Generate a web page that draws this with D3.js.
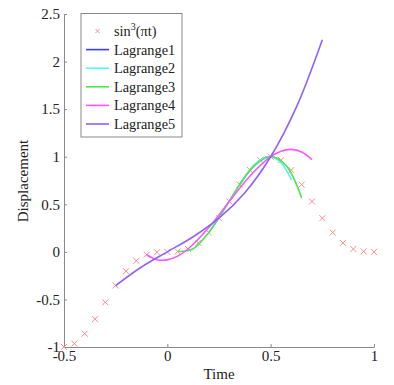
<!DOCTYPE html>
<html><head><meta charset="utf-8">
<script src="https://cdn.jsdelivr.net/npm/d3@7"></script>
<style>body{margin:0;background:#fff}svg{display:block}</style>
</head><body><div id="chart"></div>
<script>
// Sample points of sin^3(pi t)
const sampleT = [-0.5,-0.45,-0.4,-0.35,-0.3,-0.25,-0.2,-0.15,-0.1,-0.05,0,0.05,0.1,0.15,0.2,0.25,0.3,0.35,0.4,0.45,0.5,0.55,0.6,0.65,0.7,0.75,0.8,0.85,0.9,0.95,1.0];
const sampleY = [-1,-0.964,-0.860,-0.707,-0.530,-0.354,-0.203,-0.094,-0.030,-0.004,0,0.004,0.030,0.094,0.203,0.354,0.530,0.707,0.860,0.964,1,0.964,0.860,0.707,0.530,0.354,0.203,0.094,0.030,0.004,0];

// Interpolating curves (t, value)
const lag1T = [0.35,0.375,0.4,0.425,0.45,0.475,0.5,0.525,0.55];
const lag1Y = [0.707,0.788,0.860,0.919,0.964,0.992,1.0,0.987,0.949];
const lag2T = [0.2,0.25,0.3,0.35,0.4,0.45,0.5,0.55,0.6];
const lag2Y = [0.203,0.354,0.530,0.707,0.860,0.966,1.0,0.938,0.757];
const lag3T = [0.05,0.125,0.2,0.275,0.35,0.425,0.5,0.575,0.65];
const lag3Y = [0.004,0.033,0.203,0.449,0.707,0.912,1.0,0.906,0.566];
const lag4T = [-0.1,-0.05,0,0.05,0.1,0.2,0.3,0.4,0.5,0.55,0.6,0.65,0.7];
const lag4Y = [-0.030,-0.082,-0.084,-0.045,0.030,0.254,0.530,0.798,1.0,1.058,1.077,1.050,0.970];
const lag5T = [-0.25,-0.125,0,0.125,0.25,0.375,0.5,0.625,0.75];
const lag5Y = [-0.354,-0.159,0,0.159,0.354,0.622,1.0,1.524,2.230];

const xTicks = [-0.5,0,0.5,1];
const yTicks = [-1,-0.5,0,0.5,1,1.5,2,2.5];
const seriesNames = ["Lagrange1","Lagrange2","Lagrange3","Lagrange4","Lagrange5"];
const seriesColors = ["#3c3cff","#5cf6f6","#4ee84e","#ff55ff","#9060ff"];
const markerColor = "#ff8c8c";

const W = 394, H = 385;
const svg = d3.select("#chart").append("svg").attr("width", W).attr("height", H);
const x = d3.scaleLinear().domain([-0.5, 1]).range([64, 374]);
const y = d3.scaleLinear().domain([-1, 2.5]).range([347, 14]);
const font = "Liberation Serif, Times New Roman, serif";

// axes
const xAxis = svg.append("g").attr("transform", `translate(0,${y(-1)})`)
  .call(d3.axisBottom(x).tickValues(xTicks).tickSizeInner(-3).tickSizeOuter(0).tickPadding(5)
  .tickFormat(d => d === 0 ? "0" : String(d)));
const yAxis = svg.append("g").attr("transform", `translate(${x(-0.5)},0)`)
  .call(d3.axisLeft(y).tickValues(yTicks).tickSizeInner(-3).tickSizeOuter(0).tickPadding(4)
  .tickFormat(d => String(d)));
[xAxis, yAxis].forEach(g => {
  g.select(".domain").attr("stroke", "#8a8a8a");
  g.selectAll(".tick line").attr("stroke", "#8a8a8a");
  g.selectAll("text").attr("font-family", font).attr("font-size", 15).attr("fill", "#222");
});
xAxis.selectAll("text").attr("dy", "0.6em");

svg.append("text").attr("x", 219).attr("y", 379).attr("text-anchor", "middle")
  .attr("font-family", font).attr("font-size", 15).attr("fill", "#222").text("Time");
svg.append("text").attr("transform", "translate(28,181) rotate(-90)").attr("text-anchor", "middle")
  .attr("font-family", font).attr("font-size", 15).attr("fill", "#222").text("Displacement");

// markers
function cross(g, cx, cy, r) {
  g.append("path").attr("d", `M${cx-r},${cy-r}L${cx+r},${cy+r}M${cx-r},${cy+r}L${cx+r},${cy-r}`)
    .attr("stroke", markerColor).attr("stroke-width", 1).attr("fill", "none");
}
const mg = svg.append("g");
sampleT.forEach((t, i) => cross(mg, x(t), y(sampleY[i]), 3));

// curves
const line = d3.line().x(d => x(d[0])).y(d => y(d[1])).curve(d3.curveCatmullRom.alpha(0.5));
const curves = [[lag1T, lag1Y],[lag2T, lag2Y],[lag3T, lag3Y],[lag4T, lag4Y],[lag5T, lag5Y]];
curves.forEach((c, i) => {
  svg.append("path").datum(c[0].map((t, j) => [t, c[1][j]]))
    .attr("d", line).attr("fill", "none").attr("stroke", seriesColors[i]).attr("stroke-width", 1.6);
});

// legend
const lg = svg.append("g");
lg.append("rect").attr("x", 81).attr("y", 13.5).attr("width", 101).attr("height", 123.5)
  .attr("fill", "#fff").attr("stroke", "#8a8a8a").attr("stroke-width", 1);
const rowY = i => 31 + i * 18.6;
cross(lg, 97.5, rowY(0), 2);
lg.append("text").attr("x", 114).attr("y", rowY(0) + 5).attr("font-family", font).attr("font-size", 14.3)
  .attr("fill", "#222").html('sin<tspan dy="-6" font-size="10">3</tspan><tspan dy="6">(πt)</tspan>');
seriesNames.forEach((n, i) => {
  const yy = rowY(i + 1);
  lg.append("line").attr("x1", 86).attr("x2", 109).attr("y1", yy).attr("y2", yy)
    .attr("stroke", seriesColors[i]).attr("stroke-width", 1.6);
  lg.append("text").attr("x", 114).attr("y", yy + 5).attr("font-family", font).attr("font-size", 14.3)
    .attr("fill", "#222").text(n);
});
</script></body></html>
